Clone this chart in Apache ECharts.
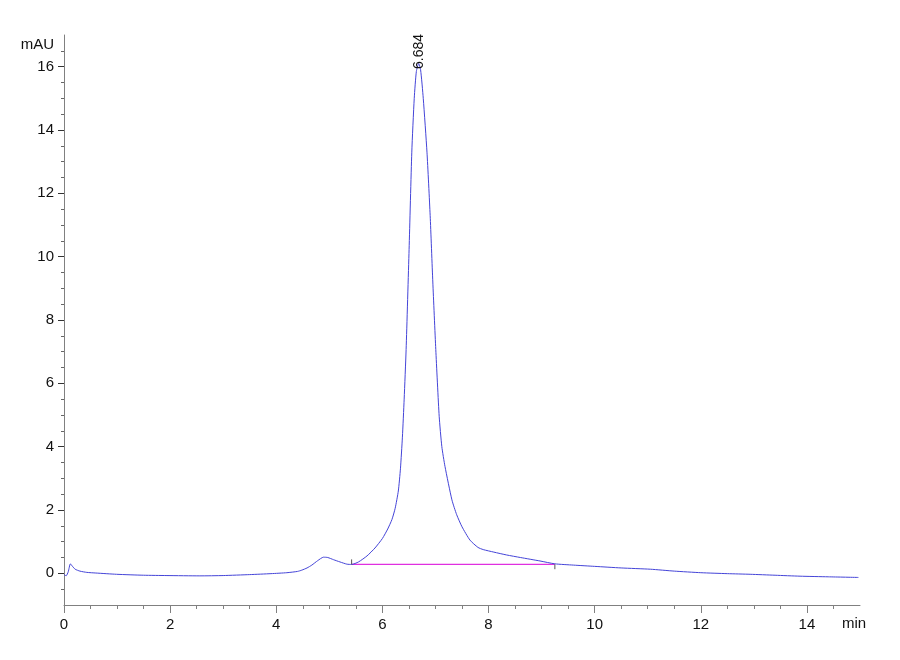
<!DOCTYPE html>
<html>
<head>
<meta charset="utf-8">
<script src="https://cdn.jsdelivr.net/npm/echarts@6/dist/echarts.min.js"></script>
<style>
  html, body { margin: 0; padding: 0; background: #fff; }
  #chart { width: 900px; height: 660px; }
</style>
</head>
<body>
<div id="chart"></div>
<script>
// retention time (min) and absorbance (mAU)
var timeMin = [0.00, 0.04, 0.08, 0.12, 0.16, 0.21, 0.30, 0.43, 0.60, 0.99, 1.50, 1.94, 2.56, 3.00, 3.50, 3.90,
  4.20, 4.40, 4.48, 4.58, 4.67, 4.78, 4.89, 4.97, 5.08, 5.20, 5.33, 5.42, 5.55, 5.71, 5.86, 6.00, 6.10,
  6.18, 6.24, 6.30, 6.34, 6.377, 6.41, 6.447, 6.503, 6.554, 6.60, 6.64, 6.684, 6.72, 6.77, 6.84, 6.90,
  6.95, 7.006, 7.07, 7.12, 7.18, 7.31, 7.40, 7.50, 7.65, 7.80, 7.90, 8.10, 8.34, 8.60, 8.97, 9.25, 9.60,
  10.00, 10.50, 11.05, 11.50, 12.00, 12.50, 12.93, 13.40, 13.87, 14.40, 14.97];
var signalMAU = [-0.03, -0.08, 0.05, 0.30, 0.22, 0.13, 0.07, 0.03, 0.01, -0.03, -0.06, -0.07, -0.08, -0.07, -0.04, -0.01,
  0.02, 0.06, 0.10, 0.17, 0.26, 0.40, 0.51, 0.50, 0.43, 0.36, 0.29, 0.28, 0.36, 0.55, 0.80, 1.10, 1.40,
  1.70, 2.05, 2.60, 3.30, 4.30, 5.50, 7.07, 10.23, 13.30, 15.00, 15.85, 16.10, 15.90, 15.00, 13.30, 11.30,
  9.20, 7.07, 4.96, 4.00, 3.37, 2.32, 1.85, 1.47, 1.05, 0.82, 0.75, 0.67, 0.58, 0.50, 0.39, 0.30, 0.26,
  0.22, 0.17, 0.13, 0.07, 0.02, -0.01, -0.03, -0.06, -0.09, -0.11, -0.13];

// integration baseline and its start/end markers
var baseX = [5.42, 9.25];
var baseY = [0.28, 0.28];
var startMark = [[5.42, 0.28], [5.42, 0.44]];
var endMark = [[9.25, 0.28], [9.25, 0.13]];

var peakTime = 6.684;
var peakHeight = 16.1;

// axis ticks
var xMajor = [0, 2, 4, 6, 8, 10, 12, 14];
var xMinor = [0.5, 1, 1.5, 2.5, 3, 3.5, 4.5, 5, 5.5, 6.5, 7, 7.5, 8.5, 9, 9.5, 10.5, 11, 11.5, 12.5, 13, 13.5, 14.5];
var yMajor = [0, 2, 4, 6, 8, 10, 12, 14, 16];
var yMinor = [-0.5, 0.5, 1, 1.5, 2.5, 3, 3.5, 4.5, 5, 5.5, 6.5, 7, 7.5, 8.5, 9, 9.5, 10.5, 11, 11.5,
  12.5, 13, 13.5, 14.5, 15, 15.5, 16.5];

var font = "'Liberation Sans Narrow', 'Liberation Sans', Arial, sans-serif";
var trace = timeMin.map(function (t, i) { return [t, signalMAU[i]]; });
var baseline = baseX.map(function (t, i) { return [t, baseY[i]]; });

var chart = echarts.init(document.getElementById('chart'), null, { renderer: 'canvas' });
var option = {
  backgroundColor: '#fff',
  animation: false,
  textStyle: { fontFamily: font },
  grid: { left: 64, right: 40, top: 35, bottom: 55 },
  xAxis: [{
    type: 'value', min: 0, max: 15,
    axisLine: { onZero: false, lineStyle: { color: '#808080', width: 1 } },
    axisTick: { customValues: xMajor, length: 8, lineStyle: { color: '#808080' } },
    axisLabel: { customValues: xMajor, margin: 12, color: '#111', fontSize: 15, fontFamily: font },
    splitLine: { show: false }
  }, {
    type: 'value', min: 0, max: 15, position: 'bottom',
    axisLine: { show: false, onZero: false },
    axisTick: { customValues: xMinor, length: 4, lineStyle: { color: '#808080' } },
    axisLabel: { show: false },
    splitLine: { show: false }
  }],
  yAxis: [{
    type: 'value', min: -1, max: 17,
    axisLine: { show: true, lineStyle: { color: '#808080', width: 1 } },
    axisTick: { show: true, customValues: yMajor, length: 6, lineStyle: { color: '#333' } },
    axisLabel: { customValues: yMajor, margin: 10, color: '#111', fontSize: 15, fontFamily: font },
    splitLine: { show: false }
  }, {
    type: 'value', min: -1, max: 17, position: 'left',
    axisLine: { show: false },
    axisTick: { show: true, customValues: yMinor, length: 3, lineStyle: { color: '#666' } },
    axisLabel: { show: false },
    splitLine: { show: false }
  }],
  graphic: [
    { type: 'text', right: 900 - 54, top: 37, style: { text: 'mAU', fill: '#111', font: '15px ' + font } },
    { type: 'text', left: 842, top: 616, style: { text: 'min', fill: '#111', font: '15px ' + font } }
  ],
  series: [{
    type: 'line',
    data: trace,
    showSymbol: false,
    smooth: 0.2,
    lineStyle: { color: '#4444d8', width: 1 },
    z: 3,
    markPoint: {
      symbol: 'circle', symbolSize: 0,
      data: [{ coord: [peakTime, peakHeight] }],
      label: {
        show: true, formatter: String(peakTime), rotate: 90, position: 'inside',
        offset: [12, 0], color: '#111', fontSize: 14, fontFamily: font
      }
    }
  }, {
    type: 'line',
    data: baseline,
    showSymbol: false,
    lineStyle: { color: '#e030e0', width: 1.2 },
    z: 2
  }, {
    type: 'line', data: startMark, showSymbol: false,
    lineStyle: { color: '#555', width: 1 }, z: 4
  }, {
    type: 'line', data: endMark, showSymbol: false,
    lineStyle: { color: '#555', width: 1 }, z: 4
  }]
};
chart.setOption(option);
</script>
</body>
</html>
